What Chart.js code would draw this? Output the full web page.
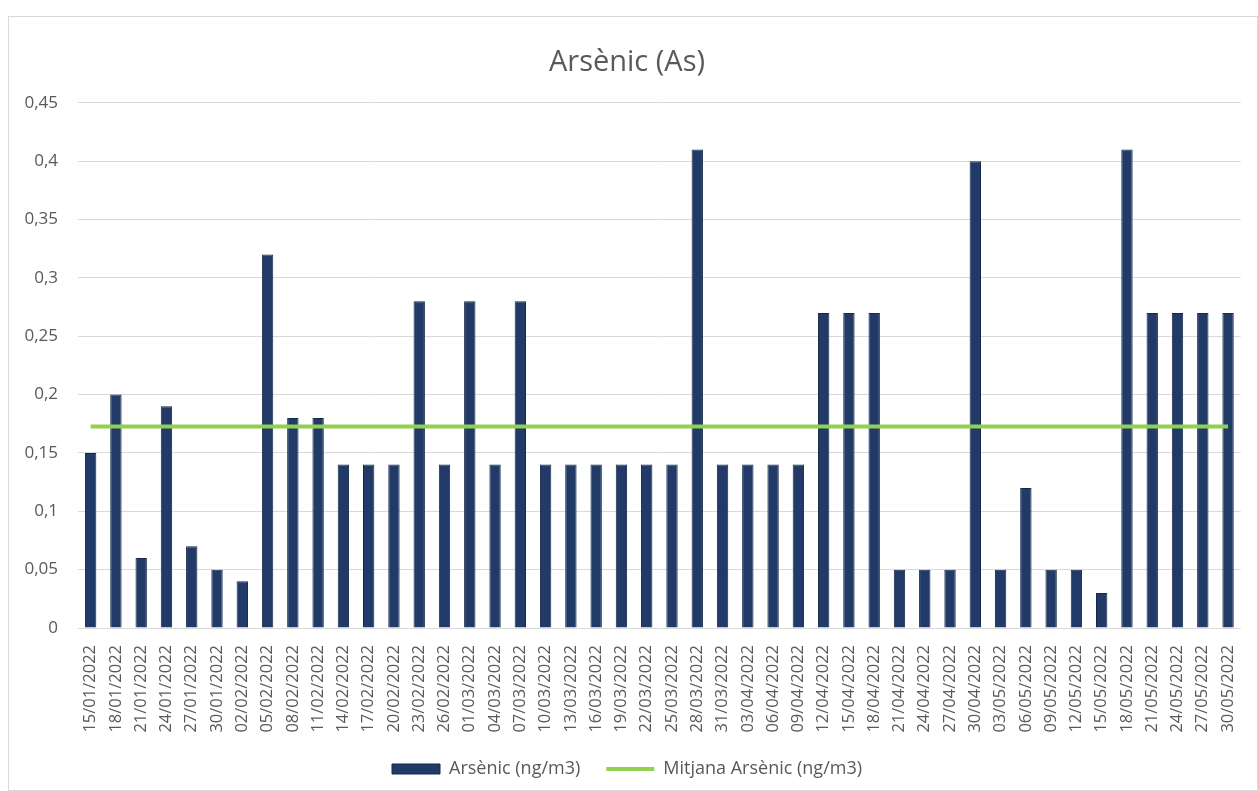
<!DOCTYPE html>
<html>
<head>
<meta charset="utf-8">
<script src="https://cdn.jsdelivr.net/npm/chart.js@4/dist/chart.umd.min.js"></script>
<style>
  html, body { margin: 0; padding: 0; background: #fff; }
  #box {
    position: absolute; left: 8px; top: 16px;
    width: 1250px; height: 775px;
    box-sizing: border-box; border: 1px solid #d9d9d9;
  }
  #box canvas { display: block; }
</style>
</head>
<body>
<div id="box"><canvas id="asChart" width="1248" height="773"></canvas></div>
<script>
const dates = [
  '15/01/2022', '18/01/2022', '21/01/2022', '24/01/2022', '27/01/2022', '30/01/2022',
  '02/02/2022', '05/02/2022', '08/02/2022', '11/02/2022', '14/02/2022', '17/02/2022',
  '20/02/2022', '23/02/2022', '26/02/2022', '01/03/2022', '04/03/2022', '07/03/2022',
  '10/03/2022', '13/03/2022', '16/03/2022', '19/03/2022', '22/03/2022', '25/03/2022',
  '28/03/2022', '31/03/2022', '03/04/2022', '06/04/2022', '09/04/2022', '12/04/2022',
  '15/04/2022', '18/04/2022', '21/04/2022', '24/04/2022', '27/04/2022', '30/04/2022',
  '03/05/2022', '06/05/2022', '09/05/2022', '12/05/2022', '15/05/2022', '18/05/2022',
  '21/05/2022', '24/05/2022', '27/05/2022', '30/05/2022'
];

const arsenic = [
  0.15, 0.20, 0.06, 0.19, 0.07, 0.05,
  0.04, 0.32, 0.18, 0.18, 0.14, 0.14,
  0.14, 0.28, 0.14, 0.28, 0.14, 0.28,
  0.14, 0.14, 0.14, 0.14, 0.14, 0.14,
  0.41, 0.14, 0.14, 0.14, 0.14, 0.27,
  0.27, 0.27, 0.05, 0.05, 0.05, 0.40,
  0.05, 0.12, 0.05, 0.05, 0.03, 0.41,
  0.27, 0.27, 0.27, 0.27
];

// mitjana llegida del gràfic (línia horitzontal)
const mitjanaValor = 0.1726;
const mitjana = dates.map(() => mitjanaValor);

const yTicks = [0, 0.05, 0.1, 0.15, 0.2, 0.25, 0.3, 0.35, 0.4, 0.45];

const grey = '#595959';
Chart.defaults.font.family = '"Open Sans", sans-serif';
Chart.defaults.color = grey;

const ctx = document.getElementById('asChart');

new Chart(ctx, {
  data: {
    labels: dates,
    datasets: [
      {
        type: 'bar',
        label: 'Arsènic (ng/m3)',
        data: arsenic,
        backgroundColor: '#213a68',
        borderColor: '#142848',
        borderWidth: 1,
        barPercentage: 0.45,
        categoryPercentage: 1,
        pointStyle: 'rect',
        order: 2
      },
      {
        type: 'line',
        label: 'Mitjana Arsènic (ng/m3)',
        data: mitjana,
        borderColor: '#92D050',
        backgroundColor: '#92D050',
        borderWidth: 4,
        pointRadius: 0,
        pointStyle: 'line',
        order: 1
      }
    ]
  },
  options: {
    responsive: false,
    animation: false,
    layout: { padding: { left: 0, right: 12, top: 0, bottom: 2 } },
    plugins: {
      title: {
        display: true,
        text: 'Arsènic (As)',
        color: grey,
        font: { size: 29, weight: 'normal' },
        padding: { top: 28, bottom: 23 }
      },
      legend: {
        position: 'bottom',
        labels: {
          usePointStyle: true,
          pointStyleWidth: 48,
          boxHeight: 10,
          padding: 26,
          color: grey,
          font: { size: 18 },
          sort: (a, b) => a.datasetIndex - b.datasetIndex
        }
      },
      tooltip: { enabled: false }
    },
    scales: {
      x: {
        grid: { display: false },
        border: { display: false },
        ticks: {
          autoSkip: false,
          maxRotation: 90,
          minRotation: 90,
          padding: 9,
          font: { size: 16.5 },
          color: grey
        },
        afterFit: scale => { scale.height = 106; }
      },
      y: {
        min: 0,
        max: 0.45,
        afterBuildTicks: axis => { axis.ticks = yTicks.map(v => ({ value: v })); },
        ticks: {
          padding: 20,
          font: { size: 17 },
          color: grey,
          callback: v => String(Number(v.toFixed(2))).replace('.', ',')
        },
        grid: { color: '#d9d9d9', drawTicks: false, lineWidth: 1 },
        border: { display: false },
        afterFit: scale => { scale.width = 69; }
      }
    }
  }
});
</script>
</body>
</html>
